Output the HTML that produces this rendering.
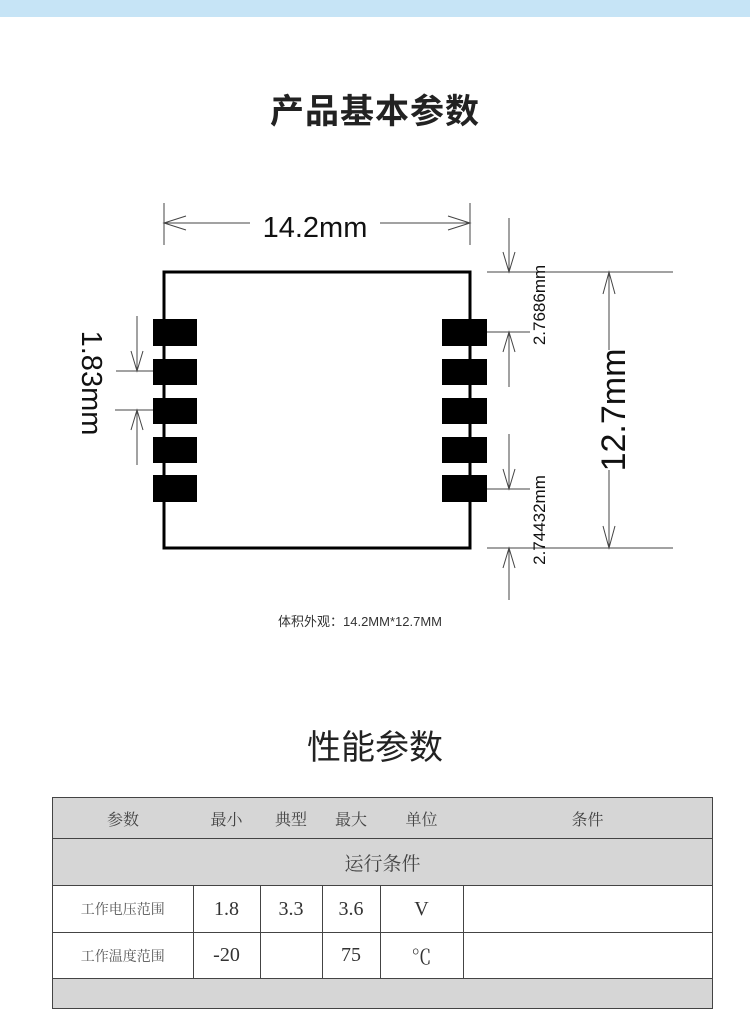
<!DOCTYPE html>
<html><head><meta charset="utf-8"><style>
body{margin:0;width:750px;height:989px;background:#fff;position:relative;overflow:hidden;font-family:"Liberation Sans","Noto Sans CJK SC",sans-serif}
.ban{position:absolute;left:0;top:0;width:750px;height:17px;background:#c6e4f6}
.t{position:absolute;left:0;width:750px;text-align:center;color:#222}
table{position:absolute;left:52px;top:797px;border-collapse:collapse;width:661px;font-family:"Liberation Serif","Noto Serif CJK SC",serif;color:#333}
td{border:1.5px solid #444;text-align:center;padding:0}
.g td{background:#d6d6d6}
.h td{border-left:none;border-right:none;font-size:16px;color:#444}
.h td:first-child{border-left:1.5px solid #444}
.h td:last-child{border-right:1.5px solid #444}
</style></head><body>
<div class="ban"></div>
<div class="t" style="top:84px;font-size:34px;font-weight:bold;letter-spacing:1px">产品基本参数</div>
<svg style="position:absolute;left:0;top:0" width="750" height="660" font-family="Liberation Sans, sans-serif">
<g stroke="#444" stroke-width="1" fill="none">
<line x1="164" y1="203" x2="164" y2="245"/><line x1="470" y1="203" x2="470" y2="245"/>
<line x1="164" y1="223" x2="250" y2="223"/><line x1="380" y1="223" x2="470" y2="223"/>
<polyline points="186,216 164,223 186,230"/><polyline points="448,216 470,223 448,230"/>
<line x1="137" y1="316" x2="137" y2="371"/><polyline points="131,351 137,371 143,351"/>
<line x1="116" y1="371" x2="153" y2="371"/><line x1="115" y1="410" x2="153" y2="410"/>
<line x1="137" y1="410" x2="137" y2="465"/><polyline points="131,430 137,410 143,430"/>
<line x1="509" y1="218" x2="509" y2="272"/><polyline points="503,252 509,272 515,252"/>
<line x1="487" y1="272" x2="673" y2="272"/><line x1="487" y1="332" x2="530" y2="332"/>
<line x1="509" y1="332" x2="509" y2="387"/><polyline points="503,352 509,332 515,352"/>
<line x1="509" y1="434" x2="509" y2="489"/><polyline points="503,469 509,489 515,469"/>
<line x1="487" y1="489" x2="530" y2="489"/><line x1="487" y1="548" x2="673" y2="548"/>
<line x1="509" y1="548" x2="509" y2="600"/><polyline points="503,568 509,548 515,568"/>
<line x1="609" y1="272" x2="609" y2="350"/><line x1="609" y1="470" x2="609" y2="548"/>
<polyline points="603,294 609,272 615,294"/><polyline points="603,526 609,548 615,526"/>
</g>
<rect x="164" y="272" width="306" height="276" fill="none" stroke="#000" stroke-width="3"/>
<g fill="#000">
<rect x="153" y="319" width="44" height="27"/><rect x="153" y="359" width="44" height="26"/><rect x="153" y="398" width="44" height="26"/><rect x="153" y="437" width="44" height="26"/><rect x="153" y="475" width="44" height="27"/>
<rect x="442" y="319" width="45" height="27"/><rect x="442" y="359" width="45" height="26"/><rect x="442" y="398" width="45" height="26"/><rect x="442" y="437" width="45" height="26"/><rect x="442" y="475" width="45" height="27"/>
</g>
<text x="315" y="237" font-size="29" text-anchor="middle" fill="#111">14.2mm</text>
<text transform="translate(82,383) rotate(90)" font-size="29" text-anchor="middle" fill="#111">1.83mm</text>
<text transform="translate(545,305) rotate(-90)" font-size="17" text-anchor="middle" fill="#111">2.7686mm</text>
<text transform="translate(545,520) rotate(-90)" font-size="17" text-anchor="middle" fill="#111">2.74432mm</text>
<text transform="translate(625,410) rotate(-90)" font-size="34" text-anchor="middle" fill="#111">12.7mm</text>
<text x="360" y="626" font-size="13" text-anchor="middle" fill="#333" font-family="Liberation Sans, Noto Sans CJK SC, sans-serif">体积外观：14.2MM*12.7MM</text>
</svg>
<div class="t" style="top:720px;font-size:34px">性能参数</div>
<table>
<tr class="g h" style="height:41px"><td style="width:140px">参数</td><td style="width:67px">最小</td><td style="width:62px">典型</td><td style="width:58px">最大</td><td style="width:83px">单位</td><td>条件</td></tr>
<tr class="g" style="height:47px"><td colspan="6" style="font-size:19px;color:#444">运行条件</td></tr>
<tr style="height:47px"><td style="font-size:14px;color:#555">工作电压范围</td><td style="font-size:20px">1.8</td><td style="font-size:20px">3.3</td><td style="font-size:20px">3.6</td><td style="font-size:20px">V</td><td></td></tr>
<tr style="height:46px"><td style="font-size:14px;color:#555">工作温度范围</td><td style="font-size:20px">-20</td><td></td><td style="font-size:20px">75</td><td style="font-size:20px">℃</td><td></td></tr>
<tr class="g" style="height:30px"><td colspan="6"></td></tr>
</table>
</body></html>
